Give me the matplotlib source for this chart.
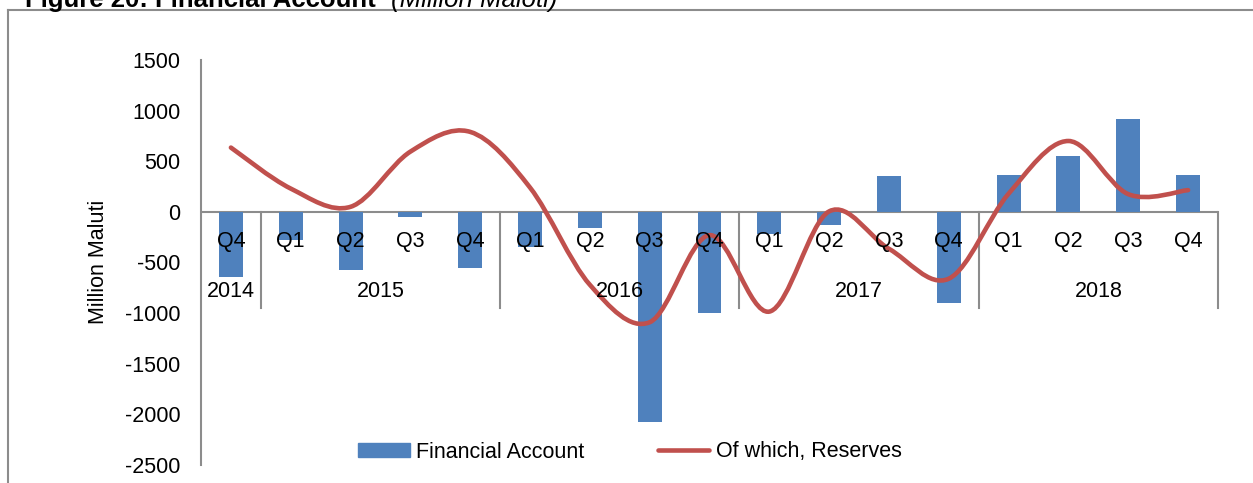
import numpy as np
import matplotlib.pyplot as plt
from matplotlib.path import Path
from matplotlib.patches import PathPatch, Patch
from matplotlib.lines import Line2D

plt.rcParams['font.family'] = ['Liberation Sans', 'DejaVu Sans']
plt.rcParams['axes.unicode_minus'] = False

# data (million maloti)
quarters = ["Q4", "Q1", "Q2", "Q3", "Q4", "Q1", "Q2", "Q3", "Q4",
            "Q1", "Q2", "Q3", "Q4", "Q1", "Q2", "Q3", "Q4"]
years = ["2014", "2015", "2016", "2017", "2018"]
year_counts = [1, 4, 4, 4, 4]
financial_account = [-640, -280, -570, -50, -555, -350, -160, -2080, -1000,
                     -215, -130, 355, -900, 360, 555, 920, 365]
reserves = [635, 230, 50, 595, 790, 240, -720, -1090, -230,
            -985, 5, -365, -660, 180, 700, 175, 215]

x = np.arange(len(quarters))
blue = "#4F81BD"
red = "#C0504D"
grey = "#8C8C8C"
fs = 15.5

fig = plt.figure(figsize=(12.53, 4.83), dpi=100)
ax = fig.add_axes([201/1253, 1-465/483, 1017/1253, 405/483])

ax.bar(x, financial_account, width=0.4, color=blue, zorder=2)

# smoothed line (Excel-style bezier)
pts = np.column_stack([x, reserves]).astype(float)
ext = np.vstack([pts[0], pts, pts[-1]])
verts = [pts[0]]
codes = [Path.MOVETO]
for i in range(len(pts) - 1):
    p0, p1, p2, p3 = ext[i], ext[i+1], ext[i+2], ext[i+3]
    verts += [p1 + (p2 - p0) / 6, p2 - (p3 - p1) / 6, p2]
    codes += [Path.CURVE4] * 3
ax.add_patch(PathPatch(Path(verts, codes), fill=False, edgecolor=red,
                       lw=3.3, capstyle='round', zorder=3))

ax.set_xlim(-0.5, len(quarters) - 0.5)
ax.set_ylim(-2500, 1500)
ax.set_yticks(np.arange(-2500, 1501, 500))
ax.tick_params(axis='y', length=0, labelsize=fs, pad=15)
ax.set_xticks([])
for s in ["top", "right", "bottom"]:
    ax.spines[s].set_visible(False)
ax.spines["left"].set_color(grey)
ax.spines["left"].set_linewidth(1.5)
ax.axhline(0, color=grey, lw=1.5, zorder=1)

# category labels
for xi, q in zip(x, quarters):
    ax.text(xi, -290, q, ha='center', va='center', fontsize=fs, zorder=4)
start = -0.5
for yr, n in zip(years, year_counts):
    ax.text(start + n / 2, -790, yr, ha='center', va='center', fontsize=fs, zorder=4)
    start += n
    ax.plot([start, start], [0, -950], color=grey, lw=1.5, zorder=1, clip_on=False)

fig.text(98/1253, 1-262/483, "Million Maluti", rotation=90, ha='center',
         va='center', fontsize=fs)

handles = [Patch(color=blue), Line2D([], [], color=red, lw=3.3, solid_capstyle='round')]
fig.legend(handles, ["Financial Account", "Of which, Reserves"], loc='center',
           bbox_to_anchor=(630/1253, 1-452/483), ncol=2, frameon=False,
           fontsize=fs, handlelength=2.4, handleheight=0.65, columnspacing=3.4,
           handletextpad=0.3)

# frame and title
fig.add_artist(plt.Line2D([8/1253, 8/1253], [0, 1-10/483], color=grey, lw=1.5,
                          transform=fig.transFigure))
fig.add_artist(plt.Line2D([8/1253, 1], [1-10/483, 1-10/483], color=grey, lw=1.5,
                          transform=fig.transFigure))
fig.text(25/1253, 1-7/483, "Figure 20: Financial Account", fontsize=18.5,
         fontweight='bold', va='baseline')
fig.text(391/1253, 1-7/483, "(Million Maloti)", fontsize=18.5,
         fontstyle='italic', va='baseline')

plt.savefig("out.png", dpi=100)
